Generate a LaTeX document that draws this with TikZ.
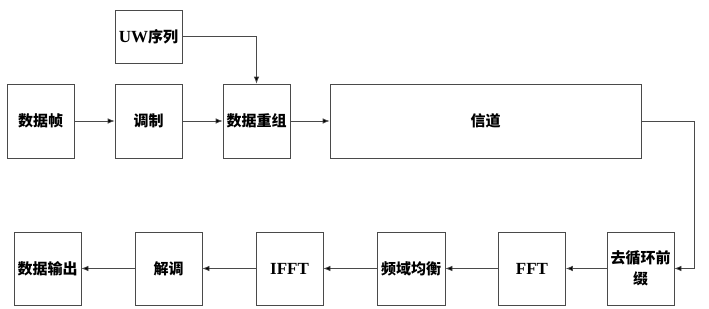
\documentclass[tikz,border=0pt]{standalone}
\usepackage{fontspec}
\setmainfont{Liberation Serif}
\newfontfamily\cjk{Noto Sans CJK SC}
\usetikzlibrary{arrows.meta}
\definecolor{LineGray}{HTML}{4A4A4A}

\begin{document}
\begin{tikzpicture}[>={Latex[length=7pt,width=5.5pt,fill=black]},x=1pt,y=-1pt]
    \useasboundingbox (0,0) rectangle (709,308);
    \tikzstyle{box}=[draw=LineGray,line width=.7pt,align=center,minimum width=67pt,minimum height=74pt,inner sep=1pt,font=\fontsize{15}{21}\selectfont\bfseries\cjk]
    \tikzstyle{link}=[->,line width=.7pt,draw=LineGray]
    \node[box,minimum height=53pt]   (uw)      at (148.5,36.5) {{\rmfamily\bfseries\fontsize{17}{21}\selectfont UW}序列};
    \node[box]                       (frame)   at (40.5,121)   {数据帧};
    \node[box]                       (mod)     at (148.5,121)  {调制};
    \node[box]                       (regroup) at (256.5,121)  {数据重组};
    \node[box,minimum width=311pt]   (chan)    at (485.5,121)  {信道};
    \node[box,minimum height=73pt]   (rmcp)    at (640.5,268.5){去循环前\\缀};
    \node[box,minimum height=73pt]   (fft)     at (532,268.5)  {\rmfamily\bfseries\fontsize{17}{21}\selectfont FFT};
    \node[box,minimum height=73pt,minimum width=68pt] (eq) at (411,268.5) {频域均衡};
    \node[box,minimum height=73pt]   (ifft)    at (289.5,268.5){\rmfamily\bfseries\fontsize{17}{21}\selectfont IFFT};
    \node[box,minimum height=73pt]   (demod)   at (168.5,268.5){解调};
    \node[box,minimum height=73pt]   (out)     at (47.5,268.5) {数据输出};
    \coordinate (turn) at (694,121);
    \draw[link] (uw) -| (regroup);
    \draw[link] (frame) -- (mod);
    \draw[link] (mod) -- (regroup);
    \draw[link] (regroup) -- (chan);
    \draw[link] (chan) -- (turn) |- (rmcp);
    \draw[link] (rmcp) -- (fft);
    \draw[link] (fft) -- (eq);
    \draw[link] (eq) -- (ifft);
    \draw[link] (ifft) -- (demod);
    \draw[link] (demod) -- (out);
  \end{tikzpicture}
\end{document}
